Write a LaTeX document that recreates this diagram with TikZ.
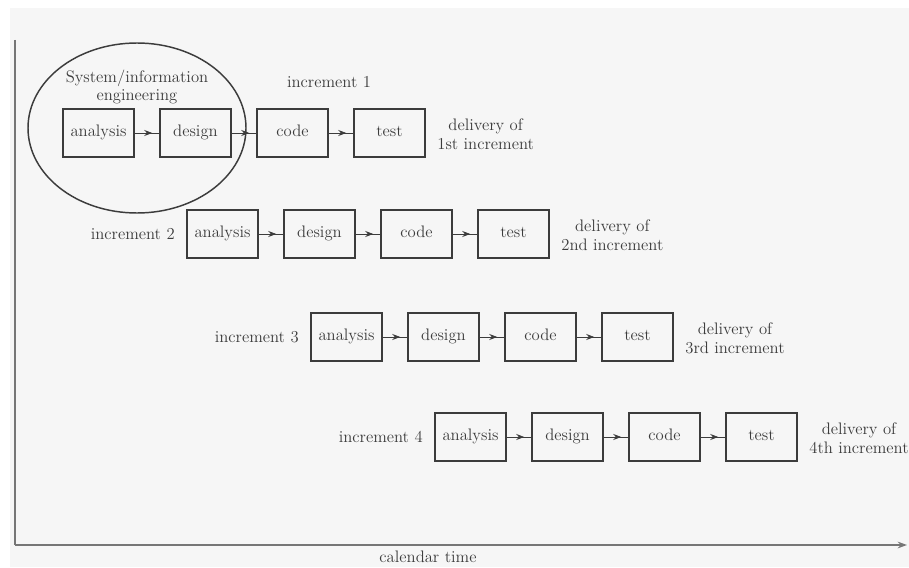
\documentclass[tikz,border=0pt]{standalone}
\usetikzlibrary{arrows.meta,decorations.markings,calc}
\definecolor{ink}{RGB}{60,60,60}
\definecolor{paper}{RGB}{246,246,246}
\tikzset{
  stagebox/.style={draw=ink, line width=1.6pt, minimum width=71*0.75pt, minimum height=48*0.75pt,
    inner sep=0pt, text=ink, font=\fontsize{12.5}{14}\selectfont, text height=1.6ex, text depth=0.5ex},
  label/.style={text=ink, font=\fontsize{12.5}{14}\selectfont, align=center, inner sep=0pt},
  flow/.style={draw=ink, line width=0.6pt,
    postaction={decorate, decoration={markings, mark=at position 0.72 with {\arrow{Stealth[length=6pt,width=4.5pt]}}}}},
  axis/.style={draw=ink!70, line width=1.1pt}
}
\begin{document}
\begin{tikzpicture}[x=0.75pt, y=-0.75pt]
  % page
  \fill[white] (0,0) rectangle (909,567);
  \fill[paper] (10,8) rectangle (909,567);
  \useasboundingbox (0,0) rectangle (909,567);

  % time axes
  \coordinate (top) at (15,40);
  \coordinate (origin) at (15,545);
  \coordinate (tend) at (907,545);
  \draw[axis] (top) -- (origin);
  \draw[axis, -{Stealth[length=7pt,width=5pt]}] (origin) -- (tend);
  \node[label] (ctime) at (428,557) {calendar time};

  % system/information engineering scope
  \draw[ink, line width=1.1pt] (137,128) ellipse [x radius=109, y radius=85];
  \node[label] (sie) at (137,87) {System/information\\engineering};

  % increments
  \foreach \i/\y/\ord in {1/133/1st, 2/234/2nd, 3/337/3rd, 4/437/4th} {
    \pgfmathsetmacro{\xa}{98.5+124*(\i-1)}
    \node[stagebox] (a\i) at (\xa,\y) {analysis};
    \node[stagebox] (d\i) at (\xa+97,\y) {design};
    \node[stagebox] (c\i) at (\xa+194,\y) {code};
    \node[stagebox] (t\i) at (\xa+291,\y) {test};
    \draw[flow] (a\i) -- (d\i);
    \draw[flow] (d\i) -- (c\i);
    \draw[flow] (c\i) -- (t\i);
    \node[label, anchor=west] (del\i) at ($(t\i.east)+(11,1)$) {delivery of\\\ord\ increment};
  }
  \node[label] (inc1) at (329,82) {increment 1};
  \foreach \i in {2,3,4} {
    \node[label, anchor=east] (inc\i) at ($(a\i.west)+(-11,0)$) {increment \i};
  }
\end{tikzpicture}
\end{document}
